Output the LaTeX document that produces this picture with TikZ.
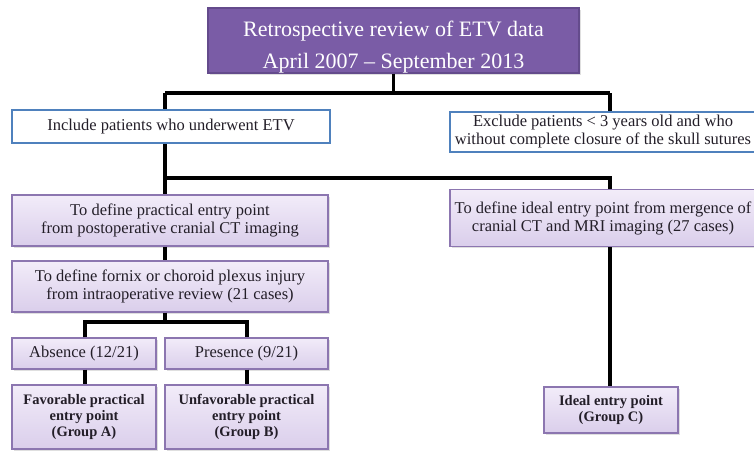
\documentclass[tikz,border=0pt]{standalone}
\usepackage{fontspec}
\setmainfont{Liberation Serif}
\usetikzlibrary{shadows}
\definecolor{headfill}{RGB}{122,92,166}
\definecolor{headdraw}{RGB}{100,75,140}
\definecolor{boxtop}{RGB}{242,236,249}
\definecolor{boxbot}{RGB}{218,206,235}
\definecolor{boxdraw}{RGB}{140,118,176}
\definecolor{selblue}{RGB}{79,129,189}
\definecolor{txt}{RGB}{35,30,40}

\begin{document}
\begin{tikzpicture}[x=1pt, y=-1pt,
  box/.style={draw=boxdraw, line width=1.2pt, top color=boxtop, bottom color=boxbot,
    inner sep=0pt, align=center, text=txt, font=\fontsize{16.5}{18}\selectfont,
    drop shadow={opacity=.25, shadow xshift=1.5pt, shadow yshift=-1.5pt}},
  head/.style={box, draw=headdraw, fill=headfill, top color=headfill, bottom color=headfill,
    text=white, font=\fontsize{22}{32}\selectfont},
  sel/.style={draw=selblue, line width=2pt, fill=white, inner sep=0pt, align=center,
    text=txt, font=\fontsize{16.5}{18}\selectfont},
  grp/.style={box, font=\bfseries\fontsize{14.5}{16}\selectfont},
  link/.style={line width=3.5pt, black}]
\useasboundingbox (0,0) rectangle (754,450);
\clip (0,0) rectangle (754,450);

% boxes
\node[head, minimum width=371, minimum height=65] (rev) at (393.5,40.5)
  {\rule{0pt}{28pt}Retrospective review of ETV data\\April 2007 -- September 2013};
\node[sel, minimum width=318, minimum height=33] (incl) at (171,126.5)
  {Include patients who underwent ETV};
\node[sel, minimum width=306, minimum height=40] (excl) at (603,132)
  {Exclude patients < 3 years old and who\\without complete closure of the skull sutures};
\node[box, minimum width=316, minimum height=51] (prac) at (170,220.5)
  {To define practical entry point\\from postoperative cranial CT imaging};
\node[box, minimum width=306, minimum height=57] (ideal) at (603,218)
  {To define ideal entry point from mergence of\\cranial CT and MRI imaging (27 cases)};
\node[box, minimum width=316, minimum height=51] (forn) at (170,286.5)
  {To define fornix or choroid plexus injury\\from intraoperative review (21 cases)};
\node[box, minimum width=144, minimum height=31] (abs) at (84,353.5) {Absence (12/21)};
\node[box, minimum width=163, minimum height=31] (pres) at (246.5,353.5) {Presence (9/21)};
\node[grp, minimum width=144, minimum height=64] (grpA) at (84,417)
  {Favorable practical\\entry point\\(Group A)};
\node[grp, minimum width=163, minimum height=64] (grpB) at (246.5,417)
  {Unfavorable practical\\entry point\\(Group B)};
\node[grp, minimum width=134, minimum height=46] (grpC) at (611,410)
  {Ideal entry point\\(Group C)};

% junctions
\coordinate (j1) at (393.5,93);
\coordinate (aL) at (165,93);
\coordinate (aR) at (610,93);
\coordinate (bL) at (165,178);
\coordinate (bR) at (610,178);
\coordinate (cM) at (165,322);
\coordinate (cL) at (85,322);
\coordinate (cR) at (247,322);

% connectors
\draw[link] (rev.south -| j1) -- (j1);
\draw[link] (aL) -- (aR);
\draw[link] (aL) -- (aL |- incl.north);
\draw[link] (aR) -- (aR |- excl.north);
\draw[link] (bL |- incl.south) -- (bL |- prac.north);
\draw[link] (bL) -- (bR) -- (bR |- ideal.north);
\draw[link] (bL |- prac.south) -- (bL |- forn.north);
\draw[link] (cM |- forn.south) -- (cM);
\draw[link] (cL |- abs.north) -- (cL) -- (cR) -- (cR |- pres.north);
\draw[link] (cL |- abs.south) -- (cL |- grpA.north);
\draw[link] (cR |- pres.south) -- (cR |- grpB.north);
\draw[link] (bR |- ideal.south) -- (bR |- grpC.north);
\end{tikzpicture}
\end{document}
